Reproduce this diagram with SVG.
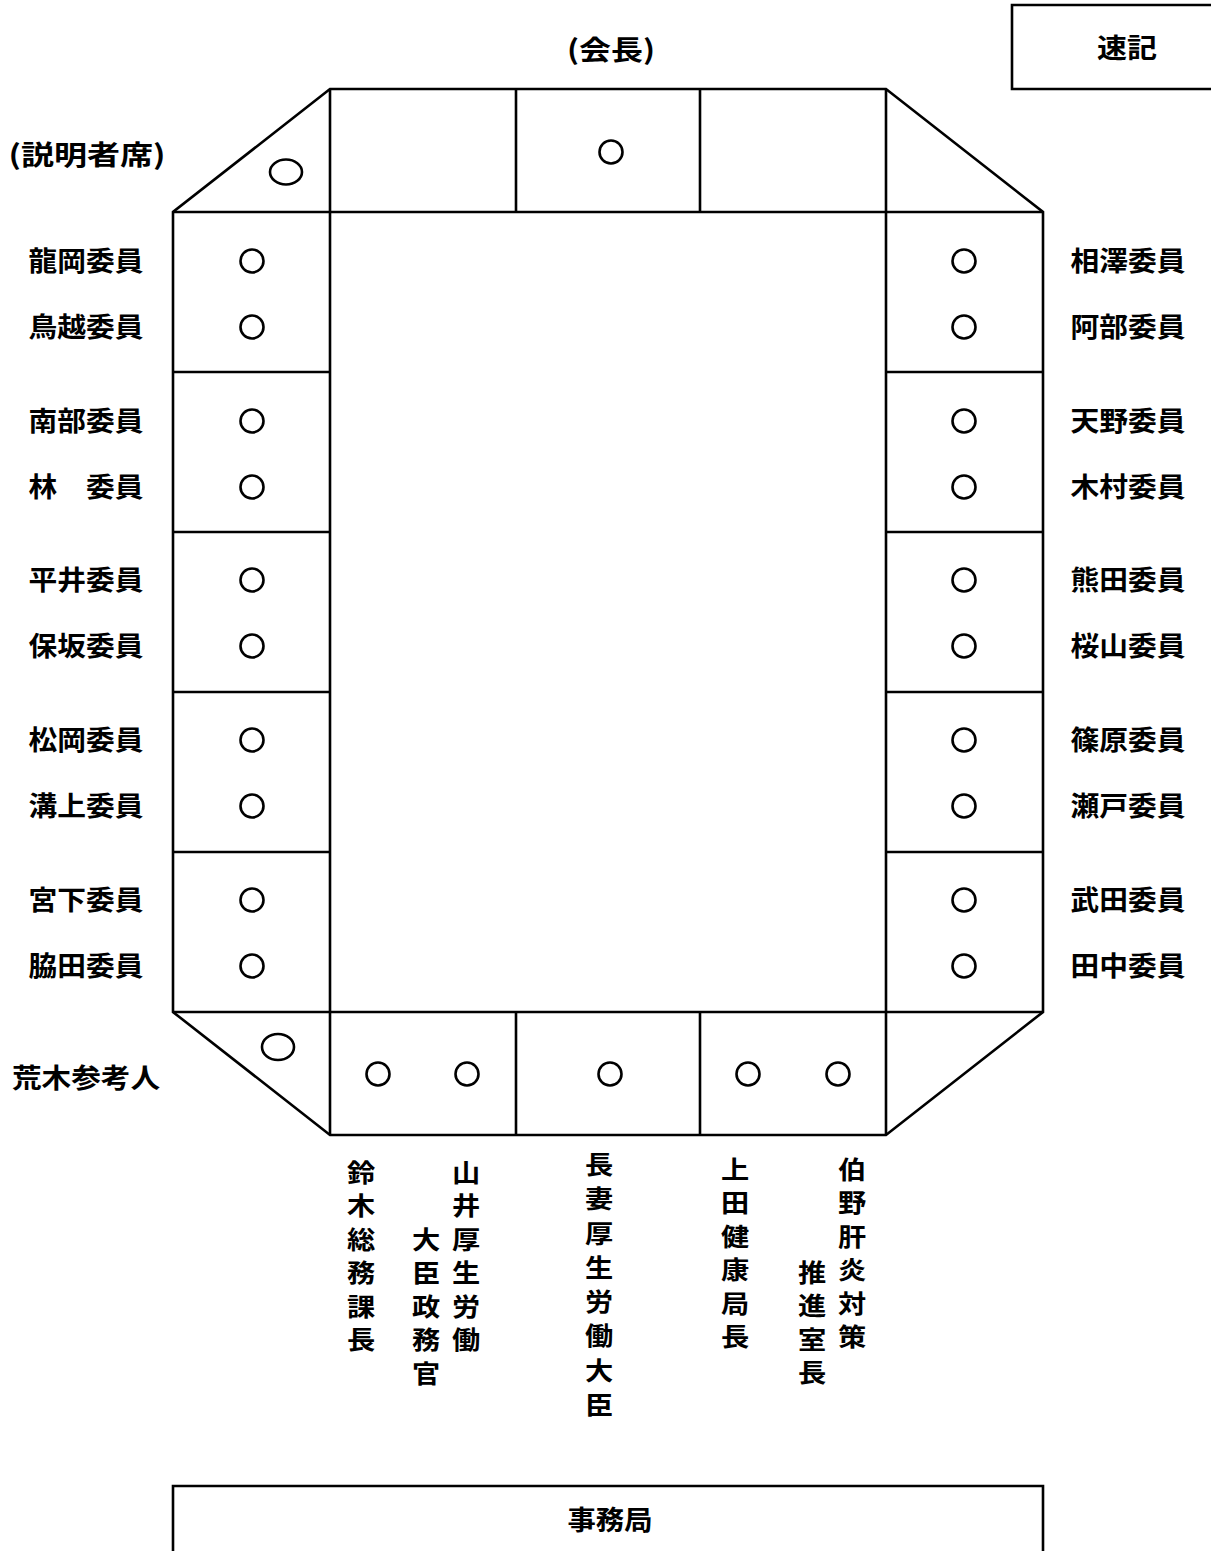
<svg xmlns="http://www.w3.org/2000/svg" width="1211" height="1551" viewBox="0 0 1211 1551">
<style>
.l{fill:none;stroke:#000;stroke-width:2.6}
.s{fill:none;stroke:#000;stroke-width:2.6}
text{font-family:"Noto Sans CJK JP","Noto Sans CJK SC",sans-serif;font-size:27px;font-weight:bold;fill:#000;text-anchor:middle}
.v{font-size:25px}
</style>
<rect width="1211" height="1551" fill="#fff"/>
<g id="table">
<path class="l" d="M330,89 L886,89 L1043,212 L1043,1012 L886,1135 L330,1135 L173,1012 L173,212 Z"/>
<path class="l" d="M173,212 L1043,212 M173,1012 L1043,1012 M330,89 L330,1135 M886,89 L886,1135 M516,89 L516,212 M700,89 L700,212 M516,1012 L516,1135 M700,1012 L700,1135"/>
<path class="l" d="M173,372 L330,372 M173,532 L330,532 M173,692 L330,692 M173,852 L330,852 M886,372 L1043,372 M886,532 L1043,532 M886,692 L1043,692 M886,852 L1043,852"/>
</g>
<g id="seats">
<circle class="s" cx="611" cy="152" r="11.5"/>
<ellipse class="s" cx="286" cy="172" rx="16" ry="12.5"/>
<ellipse class="s" cx="278" cy="1047" rx="16" ry="13"/>
<circle class="s" cx="252" cy="261" r="11.5"/><circle class="s" cx="252" cy="327" r="11.5"/>
<circle class="s" cx="252" cy="421" r="11.5"/><circle class="s" cx="252" cy="487" r="11.5"/>
<circle class="s" cx="252" cy="580" r="11.5"/><circle class="s" cx="252" cy="646" r="11.5"/>
<circle class="s" cx="252" cy="740" r="11.5"/><circle class="s" cx="252" cy="806" r="11.5"/>
<circle class="s" cx="252" cy="900" r="11.5"/><circle class="s" cx="252" cy="966" r="11.5"/>
<circle class="s" cx="964" cy="261" r="11.5"/><circle class="s" cx="964" cy="327" r="11.5"/>
<circle class="s" cx="964" cy="421" r="11.5"/><circle class="s" cx="964" cy="487" r="11.5"/>
<circle class="s" cx="964" cy="580" r="11.5"/><circle class="s" cx="964" cy="646" r="11.5"/>
<circle class="s" cx="964" cy="740" r="11.5"/><circle class="s" cx="964" cy="806" r="11.5"/>
<circle class="s" cx="964" cy="900" r="11.5"/><circle class="s" cx="964" cy="966" r="11.5"/>
<circle class="s" cx="378" cy="1074" r="11.5"/><circle class="s" cx="467" cy="1074" r="11.5"/>
<circle class="s" cx="610" cy="1074" r="11.5"/><circle class="s" cx="748" cy="1074" r="11.5"/>
<circle class="s" cx="838" cy="1074" r="11.5"/>
</g>
<g id="sokki"><path class="l" d="M1212,5 L1012,5 L1012,89 L1212,89"/><text x="1127" y="58" textLength="60" lengthAdjust="spacingAndGlyphs">速記</text></g>
<g id="jimukyoku"><path class="l" d="M173,1552 L173,1486 L1043,1486 L1043,1552"/><text x="610" y="1530" textLength="85" lengthAdjust="spacingAndGlyphs">事務局</text></g>
<g id="labels">
<text x="611" y="60" textLength="88" lengthAdjust="spacingAndGlyphs">(会長)</text>
<text x="87" y="165" textLength="157" lengthAdjust="spacingAndGlyphs">(説明者席)</text>
<g>
<text x="86" y="271" textLength="115" lengthAdjust="spacingAndGlyphs">龍岡委員</text><text x="86" y="337" textLength="115" lengthAdjust="spacingAndGlyphs">鳥越委員</text>
<text x="86" y="431" textLength="115" lengthAdjust="spacingAndGlyphs">南部委員</text><text x="86" y="497" textLength="115" lengthAdjust="spacingAndGlyphs">林　委員</text>
<text x="86" y="590" textLength="115" lengthAdjust="spacingAndGlyphs">平井委員</text><text x="86" y="656" textLength="115" lengthAdjust="spacingAndGlyphs">保坂委員</text>
<text x="86" y="750" textLength="115" lengthAdjust="spacingAndGlyphs">松岡委員</text><text x="86" y="816" textLength="115" lengthAdjust="spacingAndGlyphs">溝上委員</text>
<text x="86" y="910" textLength="115" lengthAdjust="spacingAndGlyphs">宮下委員</text><text x="86" y="976" textLength="115" lengthAdjust="spacingAndGlyphs">脇田委員</text>
</g>
<g>
<text x="1128" y="271" textLength="115" lengthAdjust="spacingAndGlyphs">相澤委員</text><text x="1128" y="337" textLength="115" lengthAdjust="spacingAndGlyphs">阿部委員</text>
<text x="1128" y="431" textLength="115" lengthAdjust="spacingAndGlyphs">天野委員</text><text x="1128" y="497" textLength="115" lengthAdjust="spacingAndGlyphs">木村委員</text>
<text x="1128" y="590" textLength="115" lengthAdjust="spacingAndGlyphs">熊田委員</text><text x="1128" y="656" textLength="115" lengthAdjust="spacingAndGlyphs">桜山委員</text>
<text x="1128" y="750" textLength="115" lengthAdjust="spacingAndGlyphs">篠原委員</text><text x="1128" y="816" textLength="115" lengthAdjust="spacingAndGlyphs">瀬戸委員</text>
<text x="1128" y="910" textLength="115" lengthAdjust="spacingAndGlyphs">武田委員</text><text x="1128" y="976" textLength="115" lengthAdjust="spacingAndGlyphs">田中委員</text>
</g>
<text x="86" y="1088" textLength="148" lengthAdjust="spacingAndGlyphs">荒木参考人</text>
</g>
<g id="vlabels">
<g transform="translate(361,0) scale(1.13,1)"><text class="v" y="1182"><tspan x="0">鈴</tspan><tspan x="0" dy="33.4">木</tspan><tspan x="0" dy="33.4">総</tspan><tspan x="0" dy="33.4">務</tspan><tspan x="0" dy="33.4">課</tspan><tspan x="0" dy="33.4">長</tspan></text></g>
<g transform="translate(426,0) scale(1.13,1)"><text class="v" y="1249"><tspan x="0">大</tspan><tspan x="0" dy="33.4">臣</tspan><tspan x="0" dy="33.4">政</tspan><tspan x="0" dy="33.4">務</tspan><tspan x="0" dy="33.4">官</tspan></text></g>
<g transform="translate(466,0) scale(1.13,1)"><text class="v" y="1182"><tspan x="0">山</tspan><tspan x="0" dy="33.4">井</tspan><tspan x="0" dy="33.4">厚</tspan><tspan x="0" dy="33.4">生</tspan><tspan x="0" dy="33.4">労</tspan><tspan x="0" dy="33.4">働</tspan></text></g>
<g transform="translate(599,0) scale(1.13,1)"><text class="v" y="1174"><tspan x="0">長</tspan><tspan x="0" dy="34.3">妻</tspan><tspan x="0" dy="34.3">厚</tspan><tspan x="0" dy="34.3">生</tspan><tspan x="0" dy="34.3">労</tspan><tspan x="0" dy="34.3">働</tspan><tspan x="0" dy="34.3">大</tspan><tspan x="0" dy="34.3">臣</tspan></text></g>
<g transform="translate(735,0) scale(1.13,1)"><text class="v" y="1179"><tspan x="0">上</tspan><tspan x="0" dy="33.4">田</tspan><tspan x="0" dy="33.4">健</tspan><tspan x="0" dy="33.4">康</tspan><tspan x="0" dy="33.4">局</tspan><tspan x="0" dy="33.4">長</tspan></text></g>
<g transform="translate(812,0) scale(1.13,1)"><text class="v" y="1282"><tspan x="0">推</tspan><tspan x="0" dy="33.4">進</tspan><tspan x="0" dy="33.4">室</tspan><tspan x="0" dy="33.4">長</tspan></text></g>
<g transform="translate(852,0) scale(1.13,1)"><text class="v" y="1179"><tspan x="0">伯</tspan><tspan x="0" dy="33.4">野</tspan><tspan x="0" dy="33.4">肝</tspan><tspan x="0" dy="33.4">炎</tspan><tspan x="0" dy="33.4">対</tspan><tspan x="0" dy="33.4">策</tspan></text></g>
</g>
</svg>
